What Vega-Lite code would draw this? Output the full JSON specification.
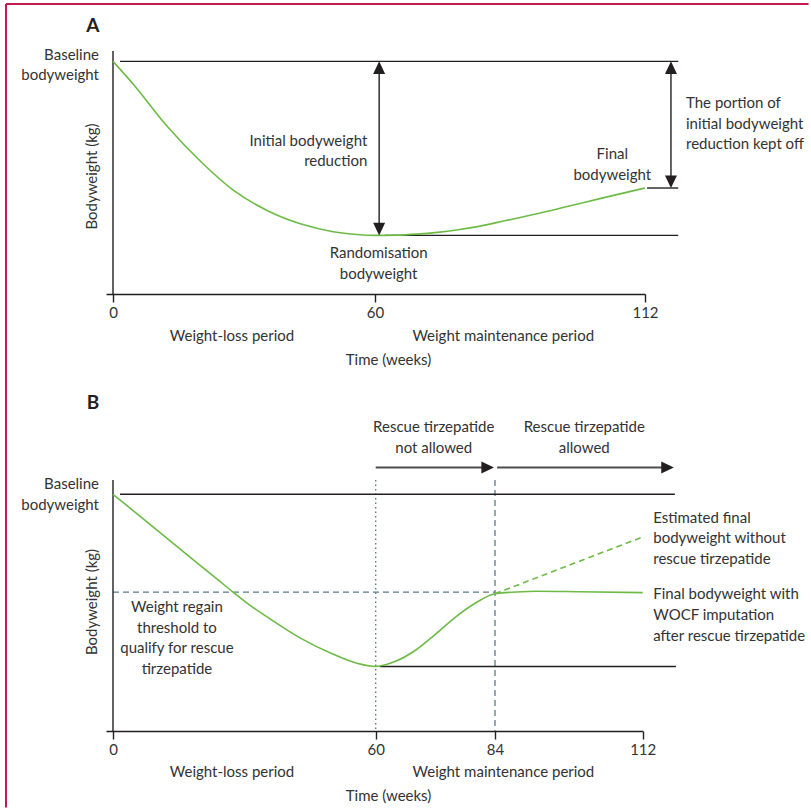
{
  "$schema": "https://vega.github.io/schema/vega-lite/v6.json",
  "background": "white",
  "padding": {"left": 4, "top": 3, "right": 0, "bottom": 0},
  "bounds": "flush",
  "spacing": 186,
  "config": {
    "view": {"stroke": null},
    "font": "Lato",
    "text": {"font": "Lato", "fontSize": 15, "color": "#333333"},
    "axis": {"labelFont": "Lato", "titleFont": "Lato", "labelFontSize": 15, "titleFontSize": 15, "titleFontWeight": "normal", "labelColor": "#333333", "titleColor": "#333333", "grid": false}
  },
  "datasets": {
    "a_frame": [
      {"week": -24.46, "week2": -24.46, "kg": 106.65, "kg2": 13.4},
      {"week": -24.46, "week2": 143.5, "kg": 106.65, "kg2": 106.65}
    ],
    "a_lines": [
      {"week": 0, "week2": 0, "kg": 101.2, "kg2": 73},
      {"week": 1.6, "week2": 118.4, "kg": 100, "kg2": 100},
      {"week": 61.9, "week2": 118.4, "kg": 79.8, "kg2": 79.8},
      {"week": 112.4, "week2": 118.4, "kg": 85.3, "kg2": 85.3},
      {"week": 60.8, "week2": 60.8, "kg": 99, "kg2": 80.8},
      {"week": 117, "week2": 117, "kg": 99, "kg2": 86.3}
    ],
    "a_heads": [
      {"week": 60.8, "kg": 100, "dir": "up"},
      {"week": 60.8, "kg": 79.8, "dir": "down"},
      {"week": 117, "kg": 100, "dir": "up"},
      {"week": 117, "kg": 85.3, "dir": "down"}
    ],
    "a_curve": [
      {"week": 0, "kg": 100},
      {"week": 4.6, "kg": 97.37},
      {"week": 12.3, "kg": 92.53},
      {"week": 20.2, "kg": 88.32},
      {"week": 27.7, "kg": 84.99},
      {"week": 35.4, "kg": 82.67},
      {"week": 43.1, "kg": 81.12},
      {"week": 50.4, "kg": 80.23},
      {"week": 56, "kg": 79.9},
      {"week": 60, "kg": 79.8},
      {"week": 64, "kg": 79.83},
      {"week": 68, "kg": 79.95},
      {"week": 72, "kg": 80.15},
      {"week": 76, "kg": 80.45},
      {"week": 80, "kg": 80.85},
      {"week": 85, "kg": 81.5},
      {"week": 90.5, "kg": 82.22},
      {"week": 97, "kg": 83.15},
      {"week": 103.5, "kg": 84.1},
      {"week": 112, "kg": 85.3}
    ],
    "a_text_right": [
      {"week": -3.2, "kg": 100.19, "label": "Baseline\nbodyweight"},
      {"week": 58.23, "kg": 90.21, "label": "Initial bodyweight\nreduction"}
    ],
    "a_text_center": [
      {"week": 60.7, "kg": 77.14, "label": "Randomisation\nbodyweight"},
      {"week": 105.7, "kg": 88.67, "label": "Final\nbodyweight"},
      {"week": 27.25, "kg": 67.58, "label": "Weight-loss period"},
      {"week": 84.7, "kg": 67.58, "label": "Weight maintenance period"}
    ],
    "a_text_left": [
      {"week": 119.9, "kg": 94.59, "label": "The portion of\ninitial bodyweight\nreduction kept off"}
    ],
    "a_letter": [{"week": -4.58, "kg": 103.37, "label": "A"}],
    "b_lines": [
      {"week": 0, "week2": 0, "kg": 101.68, "kg2": 72.15},
      {"week": 1.6, "week2": 118.1, "kg": 100, "kg2": 100},
      {"week": 60.8, "week2": 118.3, "kg": 79.73, "kg2": 79.73}
    ],
    "b_arrows": [
      {"week": 60, "week2": 82, "kg": 103.14, "kg2": 103.14},
      {"week": 84.4, "week2": 116, "kg": 103.14, "kg2": 103.14}
    ],
    "b_heads": [
      {"week": 83.8, "kg": 103.14, "dir": "right"},
      {"week": 117.9, "kg": 103.14, "dir": "right"}
    ],
    "b_dashed": [
      {"week": 0, "week2": 84, "kg": 88.5, "kg2": 88.5},
      {"week": 84, "week2": 84, "kg": 101.68, "kg2": 72.15}
    ],
    "b_dotted": [
      {"week": 60, "week2": 60, "kg": 101.68, "kg2": 72.15}
    ],
    "b_curve": [
      {"week": 0, "kg": 100},
      {"week": 6, "kg": 97.48},
      {"week": 12, "kg": 94.96},
      {"week": 18, "kg": 92.44},
      {"week": 24, "kg": 89.92},
      {"week": 27.4, "kg": 88.5},
      {"week": 31, "kg": 87.05},
      {"week": 35.1, "kg": 85.6},
      {"week": 42.7, "kg": 83.1},
      {"week": 50.3, "kg": 81.18},
      {"week": 55.7, "kg": 80.12},
      {"week": 60, "kg": 79.75},
      {"week": 64, "kg": 80.35},
      {"week": 68, "kg": 81.65},
      {"week": 72, "kg": 83.53},
      {"week": 76, "kg": 85.53},
      {"week": 80, "kg": 87.18},
      {"week": 84, "kg": 88.3},
      {"week": 88, "kg": 88.5},
      {"week": 92, "kg": 88.59},
      {"week": 100, "kg": 88.53},
      {"week": 112, "kg": 88.43}
    ],
    "b_curve_dashed": [
      {"week": 84, "kg": 88.3},
      {"week": 112, "kg": 94.98}
    ],
    "b_text_right": [
      {"week": -3.2, "kg": 100.59, "label": "Baseline\nbodyweight"}
    ],
    "b_text_center": [
      {"week": 14.6, "kg": 86.15, "label": "Weight regain\nthreshold to\nqualify for rescue\ntirzepatide"},
      {"week": 71.67, "kg": 107.33, "label": "Rescue tirzepatide\nnot allowed"},
      {"week": 100.93, "kg": 107.33, "label": "Rescue tirzepatide\nallowed"},
      {"week": 27.18, "kg": 66.74, "label": "Weight-loss period"},
      {"week": 85.6, "kg": 66.74, "label": "Weight maintenance period"}
    ],
    "b_text_left": [
      {"week": 114.0, "kg": 96.67, "label": "Estimated final\nbodyweight without\nrescue tirzepatide"},
      {"week": 114.0, "kg": 87.65, "label": "Final bodyweight with\nWOCF imputation\nafter rescue tirzepatide"}
    ],
    "b_letter": [{"week": -4.57, "kg": 110.0, "label": "B"}]
  },
  "vconcat": [
    {
      "width": 539,
      "height": 243,
      "encoding": {
        "x": {"field": "week", "type": "quantitative",
          "scale": {"domain": [-1.6, 0, 60, 112], "range": [0, 7, 269, 539], "nice": false, "zero": false},
          "axis": {"values": [0, 60, 112], "tickSize": 8, "tickWidth": 1.4, "tickColor": "#231f20", "domainColor": "#231f20", "domainWidth": 1.4, "labelPadding": 3, "labelFlush": false, "labelOverlap": false, "title": "Time (weeks)", "titleX": 282, "titleY": 70, "titleAlign": "center", "titleBaseline": "alphabetic"}},
        "y": {"field": "kg", "type": "quantitative",
          "scale": {"domain": [73, 101.2], "nice": false, "zero": false},
          "axis": {"domain": false, "ticks": false, "labels": false, "title": "Bodyweight (kg)", "titleX": -10, "titleY": 125, "titleAngle": 270, "titleAlign": "center", "titleBaseline": "alphabetic"}}
      },
      "layer": [
        {"data": {"name": "a_frame"}, "mark": {"type": "rule", "color": "#c8164e", "strokeWidth": 2}, "encoding": {"x2": {"field": "week2"}, "y2": {"field": "kg2"}}},
        {"data": {"name": "a_lines"}, "mark": {"type": "rule", "color": "#231f20", "strokeWidth": 1.4}, "encoding": {"x2": {"field": "week2"}, "y2": {"field": "kg2"}}},
        {"data": {"name": "a_curve"}, "mark": {"type": "line", "color": "#6dbb46", "strokeWidth": 1.6, "interpolate": "monotone"}},
        {"data": {"name": "a_heads"}, "mark": {"type": "point", "filled": true, "size": 144, "color": "#231f20", "opacity": 1, "strokeWidth": 0},
          "encoding": {"shape": {"field": "dir", "type": "nominal", "scale": {"domain": ["up", "down", "right"], "range": ["M0,0L-1,2.1L1,2.1Z", "M0,0L-1,-2.1L1,-2.1Z", "M0,0L-2.1,-1L-2.1,1Z"]}, "legend": null}}},
        {"data": {"name": "a_text_right"}, "mark": {"type": "text", "align": "right", "baseline": "alphabetic", "lineBreak": "\n", "lineHeight": 20.7}, "encoding": {"text": {"field": "label"}}},
        {"data": {"name": "a_text_center"}, "mark": {"type": "text", "align": "center", "baseline": "alphabetic", "lineBreak": "\n", "lineHeight": 20.7}, "encoding": {"text": {"field": "label"}}},
        {"data": {"name": "a_text_left"}, "mark": {"type": "text", "align": "left", "baseline": "alphabetic", "lineBreak": "\n", "lineHeight": 20.7}, "encoding": {"text": {"field": "label"}}},
        {"data": {"name": "a_letter"}, "mark": {"type": "text", "align": "center", "baseline": "alphabetic", "fontSize": 19, "fontWeight": "bold", "color": "#231f20"}, "encoding": {"text": {"field": "label"}}}
      ]
    },
    {
      "width": 568,
      "height": 251,
      "encoding": {
        "x": {"field": "week", "type": "quantitative",
          "scale": {"domain": [-1.6, 0, 60, 84, 112], "range": [0, 7, 269.7, 389, 536.7], "nice": false, "zero": false},
          "axis": {"values": [0, 60, 84, 112], "tickSize": 8, "tickWidth": 1.4, "tickColor": "#231f20", "domainColor": "#231f20", "domainWidth": 1.4, "labelPadding": 3, "labelFlush": false, "labelOverlap": false, "title": "Time (weeks)", "titleX": 282, "titleY": 69, "titleAlign": "center", "titleBaseline": "alphabetic"}},
        "y": {"field": "kg", "type": "quantitative",
          "scale": {"domain": [72.15, 101.68], "nice": false, "zero": false},
          "axis": {"domain": false, "ticks": false, "labels": false, "title": "Bodyweight (kg)", "titleX": -10, "titleY": 121.5, "titleAngle": 270, "titleAlign": "center", "titleBaseline": "alphabetic"}}
      },
      "layer": [
        {"data": {"name": "b_dotted"}, "mark": {"type": "rule", "color": "#5b7b89", "strokeWidth": 1.4, "strokeDash": [1.5, 3]}, "encoding": {"x2": {"field": "week2"}, "y2": {"field": "kg2"}}},
        {"data": {"name": "b_dashed"}, "mark": {"type": "rule", "color": "#5b7b89", "strokeWidth": 1.3, "strokeDash": [6, 4]}, "encoding": {"x2": {"field": "week2"}, "y2": {"field": "kg2"}}},
        {"data": {"name": "b_lines"}, "mark": {"type": "rule", "color": "#231f20", "strokeWidth": 1.4}, "encoding": {"x2": {"field": "week2"}, "y2": {"field": "kg2"}}},
        {"data": {"name": "b_arrows"}, "mark": {"type": "rule", "color": "#4d4d4d", "strokeWidth": 2}, "encoding": {"x2": {"field": "week2"}, "y2": {"field": "kg2"}}},
        {"data": {"name": "b_curve"}, "mark": {"type": "line", "color": "#6dbb46", "strokeWidth": 1.6, "interpolate": "monotone"}},
        {"data": {"name": "b_curve_dashed"}, "mark": {"type": "line", "color": "#6dbb46", "strokeWidth": 1.6, "strokeDash": [6, 4]}},
        {"data": {"name": "b_heads"}, "mark": {"type": "point", "filled": true, "size": 144, "color": "#231f20", "opacity": 1, "strokeWidth": 0},
          "encoding": {"shape": {"field": "dir", "type": "nominal", "scale": {"domain": ["up", "down", "right"], "range": ["M0,0L-1,2.1L1,2.1Z", "M0,0L-1,-2.1L1,-2.1Z", "M0,0L-2.1,-1L-2.1,1Z"]}, "legend": null}}},
        {"data": {"name": "b_text_right"}, "mark": {"type": "text", "align": "right", "baseline": "alphabetic", "lineBreak": "\n", "lineHeight": 20.7}, "encoding": {"text": {"field": "label"}}},
        {"data": {"name": "b_text_center"}, "mark": {"type": "text", "align": "center", "baseline": "alphabetic", "lineBreak": "\n", "lineHeight": 20.7}, "encoding": {"text": {"field": "label"}}},
        {"data": {"name": "b_text_left"}, "mark": {"type": "text", "align": "left", "baseline": "alphabetic", "lineBreak": "\n", "lineHeight": 20.7}, "encoding": {"text": {"field": "label"}}},
        {"data": {"name": "b_letter"}, "mark": {"type": "text", "align": "center", "baseline": "alphabetic", "fontSize": 19, "fontWeight": "bold", "color": "#231f20"}, "encoding": {"text": {"field": "label"}}}
      ]
    }
  ]
}
